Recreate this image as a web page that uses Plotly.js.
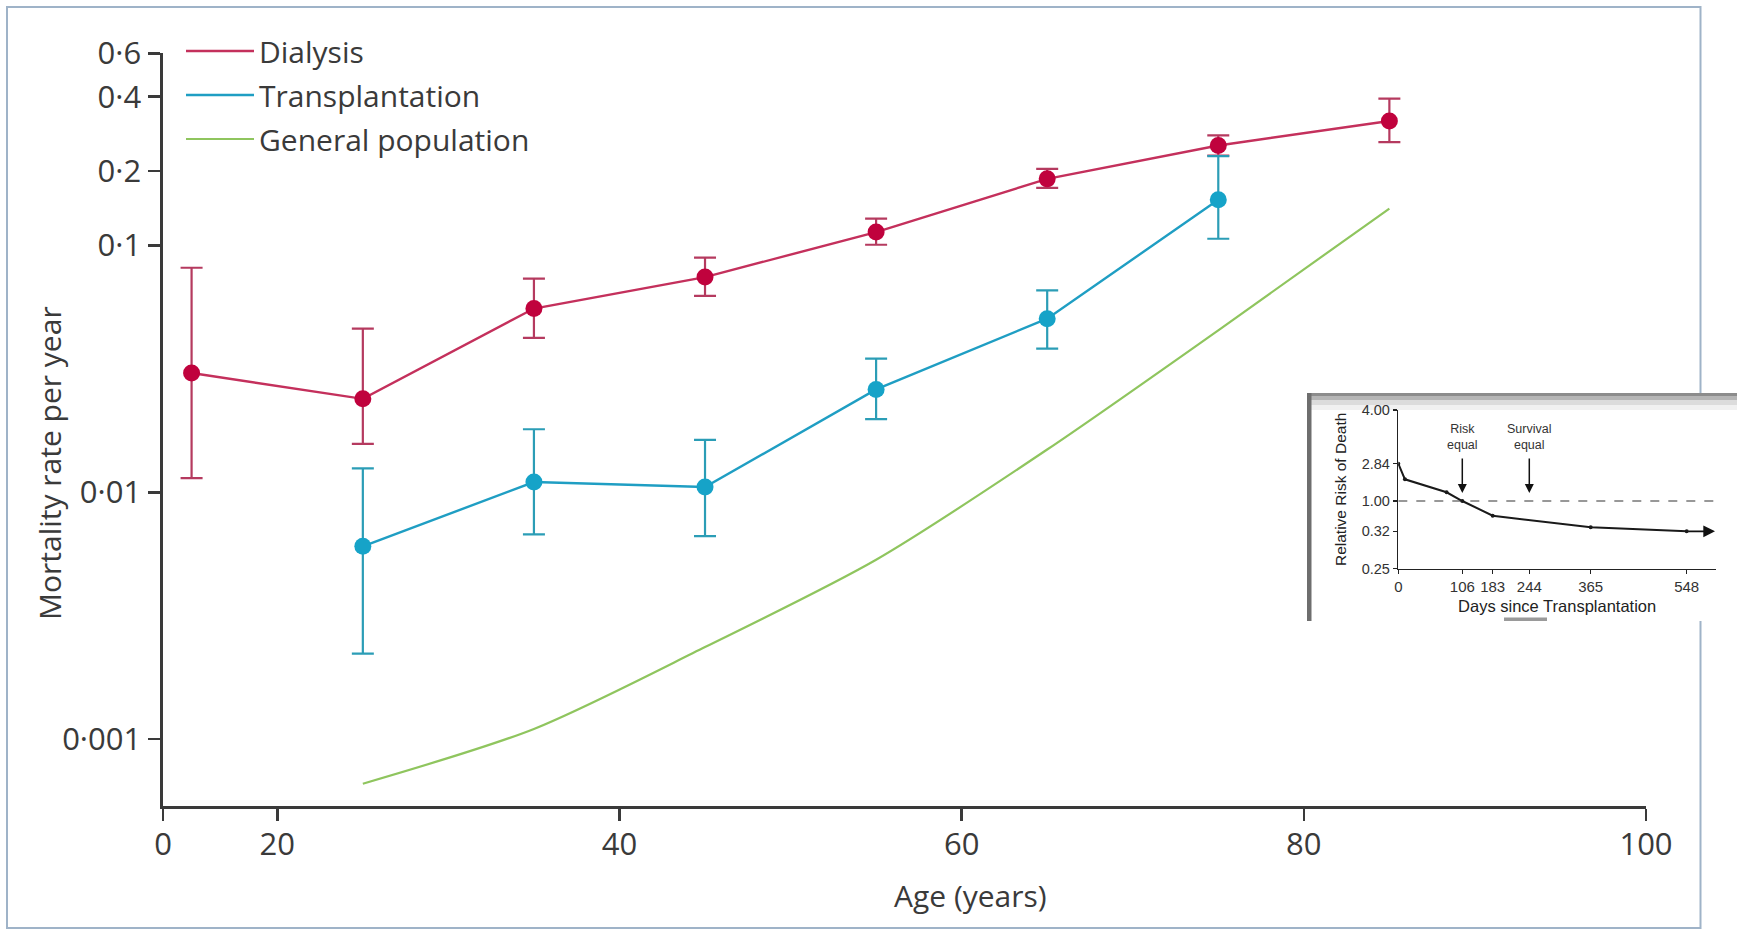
<!DOCTYPE html>
<html>
<head>
<meta charset="utf-8">
<script src="https://cdn.plot.ly/plotly-3.0.1.min.js"></script>
<style>
html,body{margin:0;padding:0;background:#ffffff;}
#chart{width:1737px;height:935px;}
</style>
</head>
<body>
<div id="chart"></div>
<script>
// ---------------- DATA ----------------
const seriesNames = ['Dialysis', 'Transplantation', 'General population'];
const xTitle = 'Age (years)';
const yTitle = 'Mortality rate per year';

const dialysisAge   = [5, 25, 35, 45, 55, 65, 75, 85];
const dialysisRate  = [0.0304, 0.0239, 0.0555, 0.0744, 0.1132, 0.186, 0.254, 0.319];
const dialysisUpper = [0.0812, 0.0460, 0.0733, 0.0892, 0.1283, 0.204, 0.279, 0.393];
const dialysisLower = [0.0114, 0.0157, 0.0422, 0.0624, 0.1006, 0.171, 0.231, 0.262];

const transplantAge   = [25, 35, 45, 55, 65, 75];
const transplantRate  = [0.00604, 0.0110, 0.0105, 0.0261, 0.0505, 0.153];
const transplantUpper = [0.0125, 0.0180, 0.0163, 0.0348, 0.0658, 0.230];
const transplantLower = [0.00222, 0.00675, 0.00664, 0.0198, 0.0382, 0.1064];

const generalAge  = [25, 35, 45, 55, 65, 75, 85];
const generalRate = [0.00066, 0.00110, 0.00236, 0.00533, 0.0149, 0.0453, 0.141];

const xTickVals = [0, 20, 40, 60, 80, 100];
const xTickText = ['0', '20', '40', '60', '80', '100'];
const yTickVals = [0.001, 0.01, 0.1, 0.2, 0.4, 0.6];
const yTickText = ['0·001', '0·01', '0·1', '0·2', '0·4', '0·6'];

// Inset: relative risk of death after transplantation
const insetDays = [0, 11, 80, 106, 183, 365, 548];
const insetRisk = [2.84, 2.07, 1.43, 1.00, 0.67, 0.41, 0.32];
const insetArrowDay = 602;
const insetXTicks = [0, 106, 183, 244, 365, 548];
const insetYTicks = [0.25, 0.32, 1.00, 2.84, 4.00];
const insetYTickText = ['0.25', '0.32', '1.00', '2.84', '4.00'];
const riskEqualDay = 106;
const survivalEqualDay = 244;
const referenceRisk = 1.00;

// ---------------- AXIS SCALES (broken / schematic axes) ----------------
function piecewise(vals, pos) {
  return function (v) {
    let i = 1;
    while (i < vals.length - 1 && v > vals[i]) i++;
    const t = (v - vals[i - 1]) / (vals[i] - vals[i - 1]);
    return pos[i - 1] + t * (pos[i] - pos[i - 1]);
  };
}
// main x axis: 0–20 segment drawn compressed
const mapX = piecewise([0, 20, 100], [0, 114.3, 1483]);
// inset axes are schematic (ticks not proportional)
const mapIX = piecewise(insetXTicks, [0, 64, 94.4, 131, 192.4, 288.4]);
const mapIY = piecewise(insetYTicks, [0, 37.4, 67.7, 105, 158.7]);

const W = 1737, H = 935;
const px = x => x / W;
const py = y => 1 - y / H;

const sub = (a, b) => a.map((v, i) => v - b[i]);

const dialysisLine = '#c4305c', dialysisMarker = '#c0023d', dialysisErr = '#b53a5f';
const transLine = '#1f9ec3', transMarker = '#16a3c8', transErr = '#2b9db6';
const generalLine = '#8fc55e';

const traces = [
  { x: dialysisAge.map(mapX), y: dialysisRate, name: seriesNames[0], legendgroup: 'd',
    mode: 'lines', line: { color: dialysisLine, width: 2.4 }, hoverinfo: 'skip' },
  { x: dialysisAge.map(mapX), y: dialysisRate, name: seriesNames[0], legendgroup: 'd', showlegend: false,
    mode: 'markers', marker: { color: dialysisMarker, size: 17 },
    error_y: { type: 'data', symmetric: false, array: sub(dialysisUpper, dialysisRate),
               arrayminus: sub(dialysisRate, dialysisLower), color: dialysisErr, thickness: 2.2, width: 11 } },
  { x: transplantAge.map(mapX), y: transplantRate, name: seriesNames[1], legendgroup: 't',
    mode: 'lines', line: { color: transLine, width: 2.4 }, hoverinfo: 'skip' },
  { x: transplantAge.map(mapX), y: transplantRate, name: seriesNames[1], legendgroup: 't', showlegend: false,
    mode: 'markers', marker: { color: transMarker, size: 17 },
    error_y: { type: 'data', symmetric: false, array: sub(transplantUpper, transplantRate),
               arrayminus: sub(transplantRate, transplantLower), color: transErr, thickness: 2.2, width: 11 } },
  { x: generalAge.map(mapX), y: generalRate, name: seriesNames[2], legendgroup: 'g',
    mode: 'lines', line: { color: generalLine, width: 2.2, shape: 'spline', smoothing: 0.8 } },
  // inset curve
  { x: insetDays.map(mapIX), y: insetRisk.map(mapIY), xaxis: 'x2', yaxis: 'y2', showlegend: false,
    mode: 'lines+markers', line: { color: '#1a1a1a', width: 2 }, marker: { color: '#1a1a1a', size: 4 } }
];

const textColor = '#3a3a3a';
const axisColor = '#3a3a3a';
const insetFont = 'Liberation Sans, Arial, sans-serif';

const layout = {
  width: W, height: H,
  margin: { l: 0, r: 0, t: 0, b: 0 },
  paper_bgcolor: '#ffffff',
  plot_bgcolor: 'rgba(0,0,0,0)',
  font: { family: 'Open Sans, sans-serif', color: textColor },
  showlegend: true,
  legend: {
    x: px(181), y: py(25), xanchor: 'left', yanchor: 'top',
    bgcolor: 'rgba(0,0,0,0)', borderwidth: 0,
    font: { size: 30, color: textColor, family: 'Open Sans, sans-serif' },
    itemwidth: 68, tracegroupgap: 2, traceorder: 'grouped'
  },
  xaxis: {
    domain: [px(163), px(1646)], anchor: 'y',
    range: [0, 1483],
    tickmode: 'array', tickvals: xTickVals.map(mapX), ticktext: xTickText,
    showgrid: false, zeroline: false,
    showline: true, linecolor: axisColor, linewidth: 2.6,
    ticks: 'outside', ticklen: 12, tickwidth: 2.6, tickcolor: axisColor,
    tickfont: { size: 31, color: textColor },
    ticklabelstandoff: -3
  },
  yaxis: {
    type: 'log',
    domain: [py(806), py(53.3)], anchor: 'x',
    range: [Math.log10(0.000536), Math.log10(0.6)],
    tickmode: 'array', tickvals: yTickVals, ticktext: yTickText,
    showgrid: false, zeroline: false,
    showline: true, linecolor: axisColor, linewidth: 2.6,
    ticks: 'outside', ticklen: 12, tickwidth: 2.6, tickcolor: axisColor,
    tickfont: { size: 31, color: textColor },
    ticklabelstandoff: 1
  },
  xaxis2: {
    domain: [px(1398.3), px(1716)], anchor: 'y2',
    range: [0, 317.7],
    tickmode: 'array', tickvals: insetXTicks.map(mapIX), ticktext: insetXTicks.map(String),
    showgrid: false, zeroline: false,
    showline: true, linecolor: '#222', linewidth: 1.5,
    ticks: 'outside', ticklen: 4, tickwidth: 1.5, tickcolor: '#222',
    tickfont: { size: 15, family: insetFont, color: '#333' },
    title: { text: 'Days since Transplantation', font: { size: 16.5, family: insetFont, color: '#222' }, standoff: 6 }
  },
  yaxis2: {
    domain: [py(568.7), py(410)], anchor: 'x2',
    range: [0, 158.7],
    tickmode: 'array', tickvals: insetYTicks.map(mapIY), ticktext: insetYTickText,
    showgrid: false, zeroline: false,
    showline: true, linecolor: '#222', linewidth: 1.5,
    ticks: 'outside', ticklen: 4, tickwidth: 1.5, tickcolor: '#222',
    tickfont: { size: 14.5, family: insetFont, color: '#333' },
    title: { text: 'Relative Risk of Death', font: { size: 15.5, family: insetFont, color: '#222' }, standoff: 11 }
  },
  shapes: [
    // figure frame
    { type: 'rect', xref: 'paper', yref: 'paper', x0: px(7), x1: px(1700.5), y0: py(928), y1: py(7),
      line: { color: '#9fb3c8', width: 2 }, fillcolor: 'rgba(0,0,0,0)', layer: 'below' },
    // inset panel background
    { type: 'rect', xref: 'paper', yref: 'paper', x0: px(1307), x1: 1, y0: py(621), y1: py(393),
      line: { width: 0 }, fillcolor: '#ffffff', layer: 'below' },
    { type: 'rect', xref: 'paper', yref: 'paper', x0: px(1307), x1: 1, y0: py(396), y1: py(393),
      line: { width: 0 }, fillcolor: '#8c8c8c', layer: 'below' },
    { type: 'rect', xref: 'paper', yref: 'paper', x0: px(1307), x1: 1, y0: py(400), y1: py(396),
      line: { width: 0 }, fillcolor: '#b5b5b5', layer: 'below' },
    { type: 'rect', xref: 'paper', yref: 'paper', x0: px(1307), x1: 1, y0: py(405), y1: py(400),
      line: { width: 0 }, fillcolor: '#dcdcdc', layer: 'below' },
    { type: 'rect', xref: 'paper', yref: 'paper', x0: px(1307), x1: 1, y0: py(410), y1: py(405),
      line: { width: 0 }, fillcolor: '#f1f1f1', layer: 'below' },
    { type: 'rect', xref: 'paper', yref: 'paper', x0: px(1307), x1: px(1311.5), y0: py(621), y1: py(393),
      line: { width: 0 }, fillcolor: '#6e6e6e', layer: 'below' },
    { type: 'rect', xref: 'paper', yref: 'paper', x0: px(1504), x1: px(1547), y0: py(621), y1: py(617.5),
      line: { width: 0 }, fillcolor: '#9a9a9a', layer: 'below' },
    // reference line at relative risk 1.00
    { type: 'line', xref: 'x2', yref: 'y2', x0: 0, x1: 317.7, y0: mapIY(referenceRisk), y1: mapIY(referenceRisk),
      line: { color: '#333', width: 1.2, dash: 'dash' } }
  ],
  annotations: [
    // main axis titles (off-centre in the original figure)
    { xref: 'paper', yref: 'paper', x: px(971), y: py(895), text: xTitle, showarrow: false,
      xanchor: 'center', yanchor: 'middle', font: { size: 30, color: textColor } },
    { xref: 'paper', yref: 'paper', x: px(50), y: py(463), text: yTitle, showarrow: false, textangle: -90,
      xanchor: 'center', yanchor: 'middle', font: { size: 30, color: textColor } },
    // inset labels and arrows
    { xref: 'x2', yref: 'paper', x: mapIX(riskEqualDay), y: py(437), text: 'Risk<br>equal',
      showarrow: false, font: { size: 12.5, family: insetFont, color: '#333' }, align: 'center' },
    { xref: 'x2', yref: 'paper', x: mapIX(survivalEqualDay), y: py(437), text: 'Survival<br>equal',
      showarrow: false, font: { size: 12.5, family: insetFont, color: '#333' }, align: 'center' },
    { xref: 'x2', yref: 'y2', x: mapIX(riskEqualDay), y: mapIY(referenceRisk), text: '',
      showarrow: true, ax: 0, ay: -44, standoff: 8, arrowhead: 2, arrowsize: 1.2, arrowwidth: 1.5, arrowcolor: '#111' },
    { xref: 'x2', yref: 'y2', x: mapIX(survivalEqualDay), y: mapIY(referenceRisk), text: '',
      showarrow: true, ax: 0, ay: -44, standoff: 8, arrowhead: 2, arrowsize: 1.2, arrowwidth: 1.5, arrowcolor: '#111' },
    { xref: 'x2', yref: 'y2', x: mapIX(insetArrowDay), y: mapIY(insetRisk[insetRisk.length - 1]),
      axref: 'x2', ayref: 'y2', ax: mapIX(insetDays[insetDays.length - 1]), ay: mapIY(insetRisk[insetRisk.length - 1]),
      text: '', showarrow: true, arrowhead: 2, arrowsize: 1.3, arrowwidth: 1.8, arrowcolor: '#111' }
  ]
};

Plotly.newPlot('chart', traces, layout, { staticPlot: true, displayModeBar: false });
</script>
</body>
</html>
